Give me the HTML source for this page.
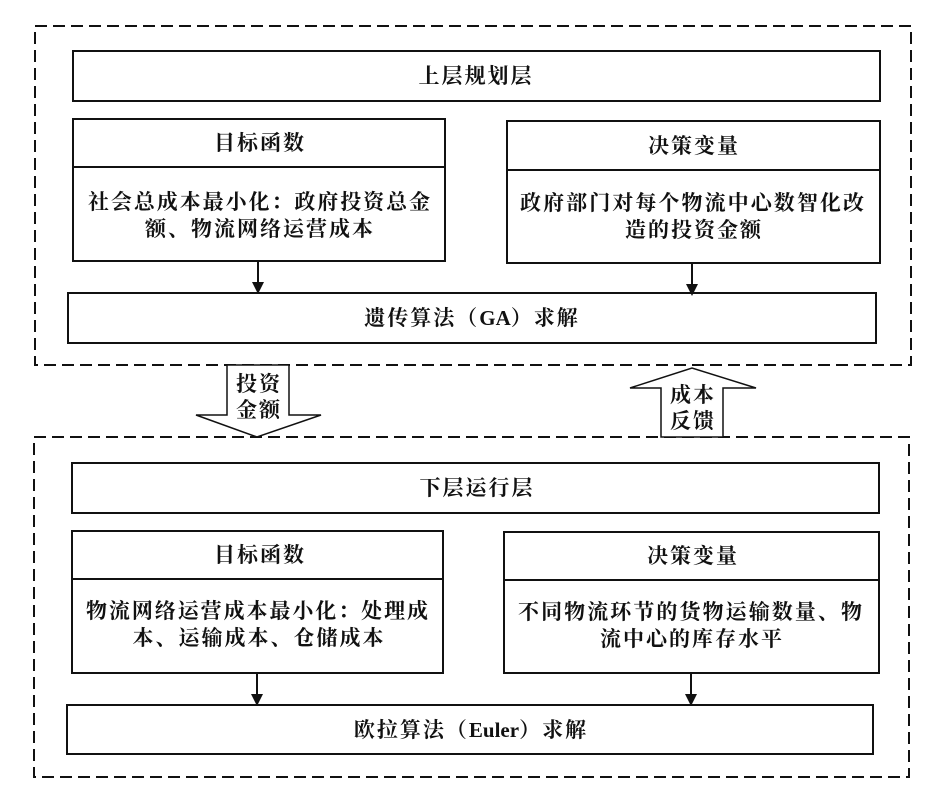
<!DOCTYPE html>
<html><head><meta charset="utf-8"><style>
html,body{margin:0;padding:0;background:#fff;}
svg{display:block;}
text{font-family:"Liberation Serif","Noto Serif CJK SC","Noto Sans CJK SC",serif;font-weight:bold;font-size:21px;letter-spacing:2px;fill:#111;text-anchor:middle;dominant-baseline:central;}
</style></head><body>
<svg width="928" height="792" viewBox="0 0 928 792" xmlns="http://www.w3.org/2000/svg">
<g fill="none" stroke="#111" stroke-width="2">
<rect x="35" y="26" width="876" height="339" stroke-dasharray="12,6"/>
<rect x="34" y="437" width="875" height="340" stroke-dasharray="12,6"/>
<rect x="73" y="51" width="807" height="50"/>
<rect x="73" y="119" width="372" height="142"/>
<line x1="73" y1="167" x2="445" y2="167"/>
<rect x="507" y="121" width="373" height="142"/>
<line x1="507" y1="170" x2="880" y2="170"/>
<rect x="68" y="293" width="808" height="50"/>
<line x1="258" y1="261" x2="258" y2="283"/>
<line x1="692" y1="263" x2="692" y2="285"/>
<rect x="72" y="463" width="807" height="50"/>
<rect x="72" y="531" width="371" height="142"/>
<line x1="72" y1="579" x2="443" y2="579"/>
<rect x="504" y="532" width="375" height="141"/>
<line x1="504" y1="580" x2="879" y2="580"/>
<rect x="67" y="705" width="806" height="49"/>
<line x1="257" y1="673" x2="257" y2="695"/>
<line x1="691" y1="673" x2="691" y2="695"/>
<polygon points="227,365 289,365 289,415 321,415 257,437 196,415 227,415" fill="#fff" stroke-width="1.5"/>
<polygon points="661,437 723,437 723,388 756,388 692,368 630,388 661,388" fill="#fff" stroke-width="1.5"/>
</g>
<g fill="#111">
<polygon points="252,282 264,282 258,294"/>
<polygon points="686,284 698,284 692,296"/>
<polygon points="251,694 263,694 257,706"/>
<polygon points="685,694 697,694 691,706"/>
</g>
<text x="476" y="76">上层规划层</text>
<text x="260" y="143">目标函数</text>
<text x="260" y="202" textLength="344" lengthAdjust="spacing">社会总成本最小化：政府投资总金</text>
<text x="260" y="229" textLength="230" lengthAdjust="spacing">额、物流网络运营成本</text>
<text x="694" y="146">决策变量</text>
<text x="693" y="203" textLength="346" lengthAdjust="spacing">政府部门对每个物流中心数智化改</text>
<text x="694" y="230">造的投资金额</text>
<text x="472" y="318">遗传算法（<tspan style="letter-spacing:0">GA</tspan>）求解</text>
<text x="259" y="384">投资</text>
<text x="259" y="410">金额</text>
<text x="693" y="395">成本</text>
<text x="693" y="421">反馈</text>
<text x="477" y="488">下层运行层</text>
<text x="260" y="555">目标函数</text>
<text x="258" y="611" textLength="344" lengthAdjust="spacing">物流网络运营成本最小化：处理成</text>
<text x="259" y="638">本、运输成本、仓储成本</text>
<text x="693" y="556">决策变量</text>
<text x="691" y="612" textLength="346" lengthAdjust="spacing">不同物流环节的货物运输数量、物</text>
<text x="692" y="639">流中心的库存水平</text>
<text x="471" y="730">欧拉算法（<tspan style="letter-spacing:0">Euler</tspan>）求解</text>
</svg>
</body></html>
